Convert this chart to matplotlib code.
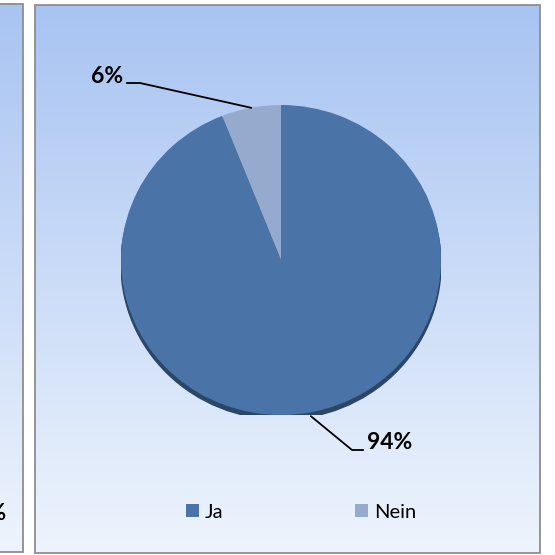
import numpy as np
import matplotlib
matplotlib.use("Agg")
import matplotlib.pyplot as plt
from matplotlib.patches import Rectangle, Ellipse
from matplotlib.lines import Line2D

# ---- data ----
categories = ["Ja", "Nein"]
values = [94, 6]
labels = ["94%", "6%"]
colors = ["#4A73A7", "#95AACC"]

W = H = 555
fig = plt.figure(figsize=(5.55, 5.55), dpi=100)
fig.patch.set_facecolor("white")

# background axes in pixel coords (Y up)
bg = fig.add_axes([0, 0, 1, 1])
bg.set_xlim(0, W); bg.set_ylim(0, H); bg.axis("off")

top_c = np.array([168, 196, 242]) / 255
bot_c = np.array([238, 244, 253]) / 255
t = np.linspace(0, 1, 256)[:, None]
grad = (top_c[None, :] * (1 - t) + bot_c[None, :] * t)[:, None, :]

def panel(x0, x1, y_top, y_bot):
    bg.imshow(grad, extent=[x0, x1, H - y_bot, H - y_top], aspect="auto",
              origin="upper", zorder=1)
    bg.add_patch(Rectangle((x0, H - y_bot), x1 - x0, y_bot - y_top,
                           fill=False, ec="#8E8E8E", lw=1.3, zorder=2))

panel(-10, 22.5, 3.5, 552)
panel(35, 540, 5, 553)
bg.set_xlim(0, W); bg.set_ylim(0, H)
bg.text(6, H - 520, "6%", ha="right", va="baseline", fontsize=16.5,
        fontweight="bold", family="Lato", color="black", zorder=3)

# pie axes (slightly elliptical)
cx, cy, rx, ry = 281, 260, 160, 155
pa = fig.add_axes([(cx - rx) / W, (H - cy - ry) / H, 2 * rx / W, 2 * ry / H])
pa.patch.set_alpha(0)
wedges, _ = pa.pie(values, colors=colors, startangle=90, counterclock=False,
                   radius=1, wedgeprops=dict(linewidth=0))
pa.add_patch(Ellipse((0, -4.5 / ry), 2, 2, color="#2C4666", zorder=0))
pa.set_aspect("auto")
pa.set_xlim(-1, 1); pa.set_ylim(-1, 1)
pa.axis("off")

# overlay for labels / leaders / legend
ov = fig.add_axes([0, 0, 1, 1])
ov.patch.set_alpha(0)
ov.set_xlim(0, W); ov.set_ylim(0, H); ov.axis("off")

fracs = np.array(values) / sum(values)
start = 90.0
mids = []
for f in fracs:
    mids.append(np.deg2rad(start - f * 360 / 2))
    start -= f * 360

# Ja label (94%) lower right
a = mids[0]
px, py = cx + rx * np.cos(a), H - (cy - ry * np.sin(a)) - 4
ov.add_line(Line2D([px, 352, 363], [py, H - 450, H - 450], color="black", lw=1.3))
ov.text(367, H - 449, labels[0], ha="left", va="baseline", fontsize=16.5,
        fontweight="bold", family="Lato")

# Nein label (6%) upper left
a = mids[1]
px, py = cx + rx * np.cos(a), H - (cy - ry * np.sin(a))
ov.add_line(Line2D([px, 140, 127], [py, H - 83, H - 83], color="black", lw=1.3))
ov.text(123, H - 83, labels[1], ha="right", va="baseline", fontsize=16.5,
        fontweight="bold", family="Lato")

leg = ov.legend(wedges, categories, ncol=2, frameon=False, loc="center",
                bbox_to_anchor=(301, H - 512), bbox_transform=ov.transData,
                prop=dict(family="Lato", size=14.5), handlelength=0.65,
                handleheight=0.65, handletextpad=0.3, columnspacing=6.5,
                borderpad=0, borderaxespad=0)

fig.savefig("out.png", dpi=100)
